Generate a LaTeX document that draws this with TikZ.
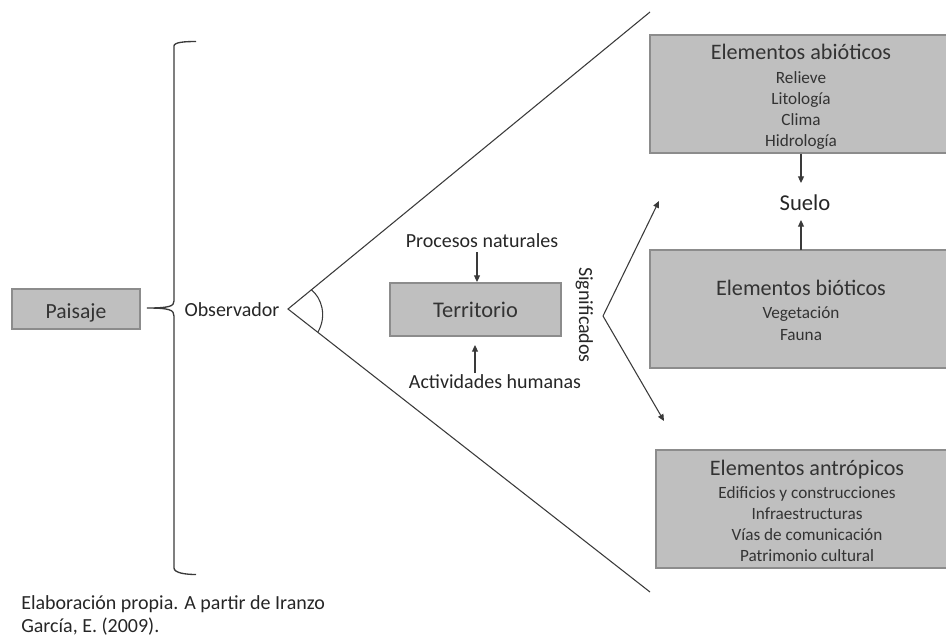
\documentclass[tikz,border=0pt]{standalone}
\usepackage{fontspec}
\setmainfont{Carlito}
\definecolor{boxfill}{HTML}{BFBFBF}
\definecolor{boxline}{HTML}{8C8C8C}
\definecolor{ink}{HTML}{333333}
\definecolor{linecol}{HTML}{3A3A3A}
\usetikzlibrary{arrows.meta}
\tikzset{
  box/.style={draw=boxline,fill=boxfill,line width=0.8pt,inner sep=0pt,text=ink},
  title/.style={text=ink,inner sep=0pt,text height=1.5ex,text depth=.25ex,yshift=-2.25pt,font=\fontsize{16.6}{19}\selectfont},
  sub/.style={text=ink,inner sep=0pt,text height=1.5ex,text depth=.25ex,yshift=-2.25pt,font=\fontsize{12.9}{15}\selectfont},
  lab/.style={text=black!85,inner sep=0pt,text height=1.5ex,text depth=.25ex,yshift=-2.6pt,font=\fontsize{15}{18}\selectfont},
  conn/.style={draw=linecol,line width=0.8pt},
  arr/.style={conn,-{Triangle[length=5pt,width=4.5pt]}}
}
\begin{document}
\begin{tikzpicture}[x=0.75pt,y=-0.75pt]
\useasboundingbox (0,0) rectangle (946,637);
% boxes
\node[box,minimum width=96pt,minimum height=30pt,text height=14.4pt,text depth=0pt,font=\fontsize{16.2}{19}\selectfont] (paisaje) at (76,309) {Paisaje};
\node[box,minimum width=128.25pt,minimum height=39.75pt,font=\fontsize{16.8}{19}\selectfont] (territorio) at (475.5,309.5) {Territorio};
\node[box,minimum width=225pt,minimum height=88.5pt] (abio) at (800,94) {};
\node[box,minimum width=225pt,minimum height=88.5pt] (bio) at (800,309) {};
\node[box,minimum width=220.5pt,minimum height=88.5pt] (antro) at (803,509) {};
% box texts
\node[title] (t1) at (801,53) {Elementos abióticos};
\node[sub] (a1) at (801,77) {Relieve};
\node[sub] (a2) at (801,98) {Litología};
\node[sub] (a3) at (801,119) {Clima};
\node[sub] (a4) at (801,140) {Hidrología};
\node[title] (t2) at (801,289) {Elementos bióticos};
\node[sub] (b1) at (801,312) {Vegetación};
\node[sub] (b2) at (801,334) {Fauna};
\node[title] (t3) at (807,469) {Elementos antrópicos};
\node[sub] (c1) at (807,492) {Edificios y construcciones};
\node[sub] (c2) at (807,513) {Infraestructuras};
\node[sub] (c3) at (807,534) {Vías de comunicación};
\node[sub] (c4) at (807,555) {Patrimonio cultural};
% free labels
\node[lab] (obs) at (232,309) {Observador};
\node[lab] (proc) at (482,240) {Procesos naturales};
\node[lab] (acti) at (495,381) {Actividades humanas};
\node[text=black!85,inner sep=0pt,text height=1.5ex,text depth=.25ex,font=\fontsize{15}{18}\selectfont,rotate=-90] (sig) at (583,315) {Significados};
\node[lab,font=\fontsize{17}{20}\selectfont,yshift=-0.4pt] (suelo) at (805,203) {Suelo};
\node[text=black!85,inner sep=0pt,anchor=north west,align=left,font=\fontsize{15}{17.5}\selectfont] (nota) at (21,595) {Elaboración propia. A partir de Iranzo\\García, E. (2009).};
% free ends
\coordinate (apex) at (288,309);
\coordinate (topend) at (650,12);
\coordinate (botend) at (650,592);
\coordinate (arcA) at (311,289.5);
\coordinate (arcB) at (318,332);
\coordinate (apex2) at (603,316);
\coordinate (up2) at (659,201);
\coordinate (dn2) at (664,421);
\coordinate (p1) at (477,252);
\coordinate (p2) at (477,282);
\coordinate (h1) at (475,373);
\coordinate (h2) at (475,345);
\coordinate (s1) at (801,153.5);
\coordinate (s2) at (801,183);
\coordinate (s3) at (801,250);
\coordinate (s4) at (801,220);
% observer cone
\draw[conn] (topend) -- (apex) -- (botend);
\draw[conn] (arcA) .. controls (322,298) and (327,316) .. (arcB);
% brace
\draw[conn,line width=1pt] (196,41.5) .. controls (186,41.5) and (174,42) .. (174,46)
  -- (174,301) .. controls (174,306) and (170,308) .. (147,308)
  .. controls (170,308) and (174,310) .. (174,316)
  -- (174,568) .. controls (174,573) and (186,574.5) .. (196,574.5);
% meaning arrows
\draw[arr] (apex2) -- (up2);
\draw[arr] (apex2) -- (dn2);
% vertical arrows
\draw[arr] (p1) -- (p2);
\draw[arr] (h1) -- (h2);
\draw[arr] (s1) -- (s2);
\draw[arr] (s3) -- (s4);
\end{tikzpicture}
\end{document}
